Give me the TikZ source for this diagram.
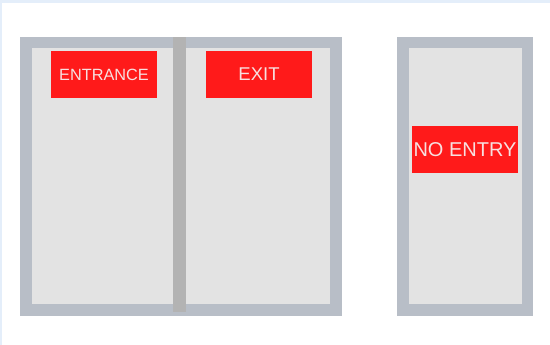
\documentclass[tikz,border=0pt]{standalone}
\usepackage{fontspec}
\setmainfont{Liberation Sans}
\definecolor{framec}{HTML}{B8BEC7}
\definecolor{innerc}{HTML}{E3E3E3}
\definecolor{dividerc}{HTML}{B3B3B3}
\definecolor{signred}{HTML}{FF1A1A}
\definecolor{signtext}{HTML}{F7E0E0}
\definecolor{edgec}{HTML}{E4EEFA}
\begin{document}
\begin{tikzpicture}[x=1pt,y=-1pt,
  sign/.style={fill=signred,text=signtext,inner sep=0pt,outer sep=0pt,anchor=center}]
\useasboundingbox (0,0) rectangle (550,345);
\fill[white] (0,0) rectangle (550,345);
\fill[edgec] (0,0) rectangle (550,3);
\fill[edgec] (0,0) rectangle (2,345);
% left double door
\fill[framec] (20,37) rectangle (342,316);
\fill[innerc] (32,48) rectangle (330,304);
\fill[dividerc] (173,37) rectangle (186,312);
% right door
\fill[framec] (397,37) rectangle (533,316);
\fill[innerc] (409,48) rectangle (522,304);
% signs
\node[sign,minimum width=106pt,minimum height=47pt,font=\fontsize{16.3}{17}\selectfont] (entrance) at (104,74.5) {ENTRANCE};
\node[sign,minimum width=106pt,minimum height=47pt,font=\fontsize{18.5}{19}\selectfont] (exit) at (259,74.5) {EXIT};
\node[sign,minimum width=106pt,minimum height=47pt,font=\fontsize{20}{21}\selectfont] (noentry) at (465,149.5) {NO ENTRY};
\end{tikzpicture}
\end{document}
